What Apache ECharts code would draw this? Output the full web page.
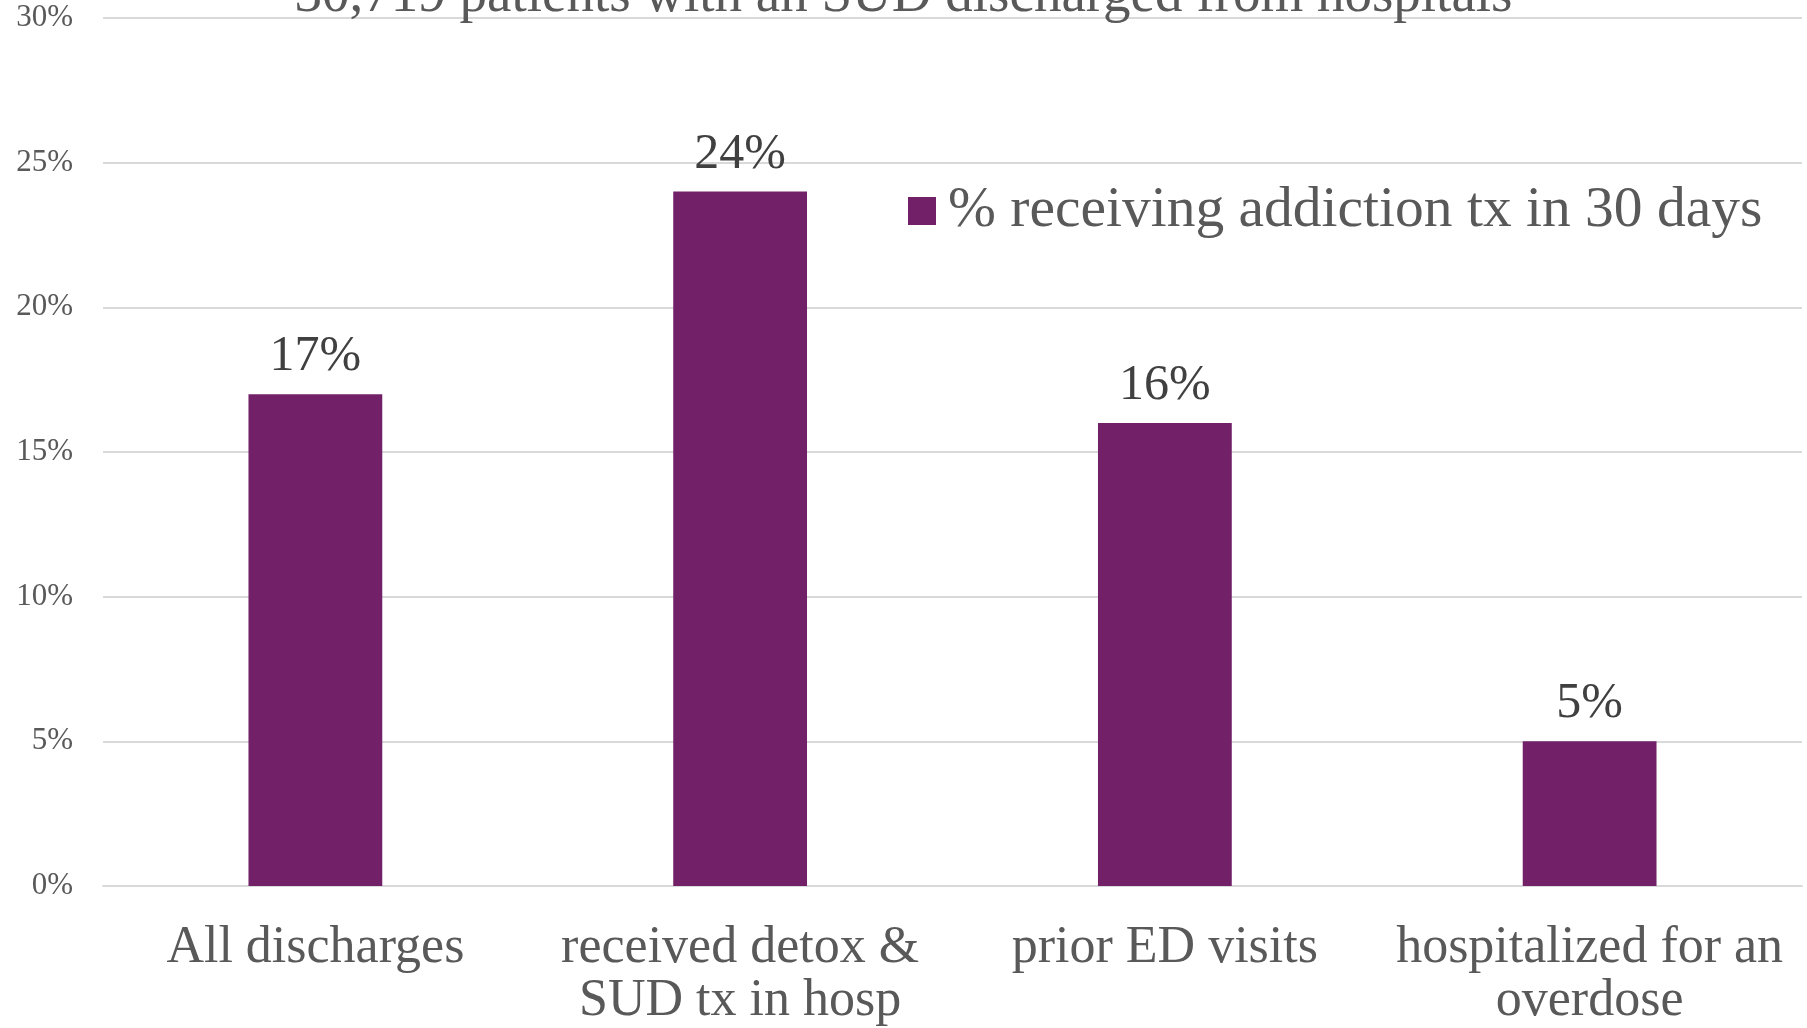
<!DOCTYPE html>
<html>
<head>
<meta charset="utf-8">
<script src="https://cdn.jsdelivr.net/npm/echarts@6/dist/echarts.min.js"></script>
<style>
html,body{margin:0;padding:0;background:#fff;}
#chart{width:1807px;height:1028px;}
</style>
</head>
<body>
<div id="chart"></div>
<script>
const titleText = '30,719 patients with an SUD discharged from hospitals';
const seriesName = '% receiving addiction tx in 30 days';
const categories = ['All discharges', 'received detox &\nSUD tx in hosp', 'prior ED visits', 'hospitalized for an\noverdose'];
const values = [17, 24, 16, 5];
const yMin = 0, yMax = 30, yInterval = 5;

const FONT = "'Liberation Serif', Georgia, serif";
const chart = echarts.init(document.getElementById('chart'));
chart.setOption({
  animation: false,
  backgroundColor: '#ffffff',
  title: {
    text: titleText,
    left: 'center',
    top: -36,
    textStyle: { fontFamily: FONT, fontSize: 55, fontWeight: 'normal', color: '#595959' }
  },
  legend: {
    data: [{ name: seriesName, icon: 'rect' }],
    left: 903,
    top: 177,
    itemWidth: 28,
    itemHeight: 28,
    itemGap: 10,
    textStyle: { fontFamily: FONT, fontSize: 57.5, color: '#595959', padding: [0, 0, 0, 7] }
  },
  grid: { left: 103, right: 5, top: 18, bottom: 137, containLabel: false },
  xAxis: {
    type: 'category',
    data: categories,
    axisLine: { lineStyle: { color: '#d9d9d9', width: 2 } },
    axisTick: { show: false },
    axisLabel: { fontFamily: FONT, fontSize: 52, color: '#595959', lineHeight: 53, margin: 36, interval: 0 }
  },
  yAxis: {
    type: 'value',
    min: yMin, max: yMax, interval: yInterval,
    axisLine: { show: false },
    axisTick: { show: false },
    splitLine: { lineStyle: { color: '#d9d9d9', width: 2 } },
    axisLabel: { fontFamily: FONT, fontSize: 31, color: '#595959', margin: 30, formatter: v => v + '%' }
  },
  series: [{
    name: seriesName,
    type: 'bar',
    data: values,
    barWidth: '31.5%',
    itemStyle: { color: '#722169' },
    label: { show: true, position: 'top', distance: 12, fontFamily: FONT, fontSize: 50, color: '#404040', formatter: p => p.value + '%' }
  }]
});
</script>
</body>
</html>
